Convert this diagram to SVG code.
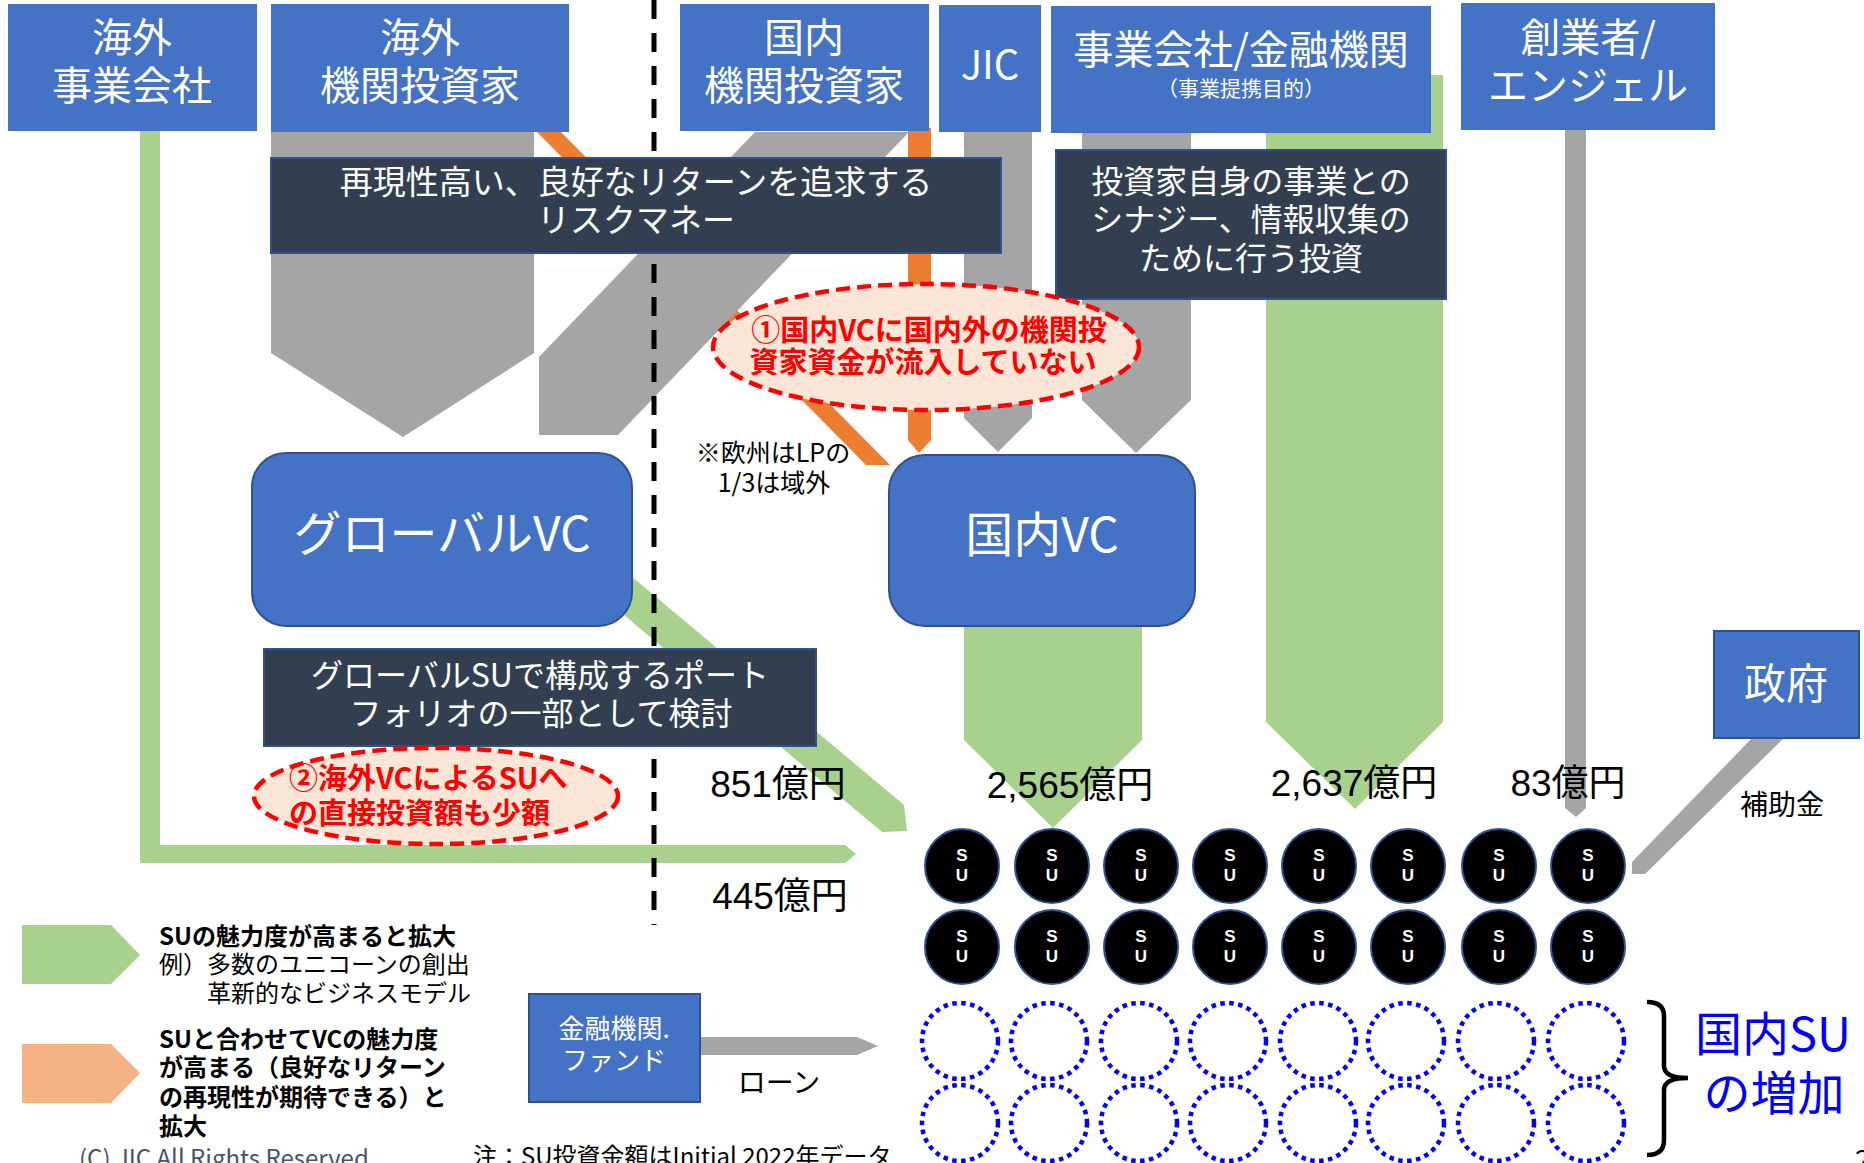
<svg xmlns="http://www.w3.org/2000/svg" width="1864" height="1163" viewBox="0 0 1864 1163">
<style>
text{font-family:"Noto Sans CJK JP","Liberation Sans",sans-serif}
.num{font-family:"Liberation Sans","Noto Sans CJK JP",sans-serif;font-size:37px;fill:#000;text-anchor:middle}
.tb{fill:#4472C4}
.tbs{fill:#4472C4;stroke:#2F528F;stroke-width:2}
.wt{fill:#fff;text-anchor:middle}
.dk{fill:#333F50;stroke:#2F528F;stroke-width:2}
.gray{fill:#A5A5A5}
.green{fill:#A9D18E}
.orange{fill:#ED7D31}
.peach{fill:#F4B183}
.ell{fill:#FBE5D6;stroke:#FF0000;stroke-width:4.5;stroke-dasharray:14 7}
.red{fill:#FF0000;font-weight:bold;font-size:29px}
.su{fill:#000;stroke:#2F528F;stroke-width:2}
.sut{fill:#fff;font-weight:bold;font-size:17px;text-anchor:middle;font-family:"Liberation Sans",sans-serif}
.dot{fill:none;stroke:#0000FF;stroke-width:4.5;stroke-dasharray:4.5 4.5}
.lg{font-size:24px;fill:#000}
.lgb{font-size:24px;fill:#000;font-weight:bold}
</style>
<defs>
<g id="suc"><ellipse class="su" cx="0" cy="0" rx="37" ry="37"/><text class="sut" x="0" y="-5">S</text><text class="sut" x="0" y="15">U</text></g>
<ellipse id="dc" class="dot" cx="0" cy="0" rx="38" ry="38"/>
</defs>

<g id="connectors">
<polygon class="orange" points="536,131 560,131 890,465 866,465"/>
<polygon class="gray" points="271,131 534,131 534,353 403,437 271,353"/>
<polygon class="gray" points="755,132 909,132 618,435 539,435 539,357"/>
<polygon class="gray" points="964,131 1032,131 1032,418 998,452 964,418"/>
<polygon class="gray" points="1082,133 1191,133 1191,400 1136,453 1082,400"/>
<polygon class="gray" points="1565,130 1586,130 1586,808 1576,817 1565,808"/>
<polygon class="gray" points="1753,737 1785,737 1645,874 1632,874 1632,862"/>
<polygon class="gray" points="700,1037 857,1037 878,1046 857,1055 700,1055"/>
<polygon class="green" points="140,131 160,131 160,845 845,845 856,854 845,863 140,863"/>
<polygon class="green" points="600,550 904,805 907,831 882,832 580,578"/>
<polygon class="green" points="964,620 1142,620 1142,740 1053,828 964,740"/>
<polygon class="green" points="1266,75 1443,75 1443,722 1355,809 1266,722"/>
<polygon class="orange" points="908,128 931,128 931,440 919,453 908,440"/>
</g>

<line x1="654" y1="0" x2="654" y2="925" stroke="#000" stroke-width="5" stroke-dasharray="19 14"/>

<g id="n-kaigai-jigyo"><rect class="tb" x="8" y="4" width="249" height="127"/>
<text class="wt" x="132" y="52" font-size="40">海外</text><text class="wt" x="132" y="100" font-size="40">事業会社</text></g>
<g id="n-kaigai-kikan"><rect class="tb" x="271" y="4" width="298" height="128"/>
<text class="wt" x="420" y="52" font-size="40">海外</text><text class="wt" x="420" y="100" font-size="40">機関投資家</text></g>
<g id="n-kokunai-kikan"><rect class="tb" x="680" y="4" width="249" height="127"/>
<text class="wt" x="804" y="52" font-size="40">国内</text><text class="wt" x="804" y="100" font-size="40">機関投資家</text></g>
<g id="n-jic"><rect class="tb" x="939" y="5" width="102" height="127"/>
<text class="wt" x="990" y="79" font-size="40">JIC</text></g>
<g id="n-jigyo-kinyu"><rect class="tb" x="1051" y="6" width="380" height="127"/>
<text class="wt" x="1241" y="64" font-size="40">事業会社/金融機関</text><text class="wt" x="1241" y="96" font-size="21">（事業提携目的）</text></g>
<g id="n-sogyo"><rect class="tb" x="1461" y="3" width="254" height="127"/>
<text class="wt" x="1588" y="52" font-size="40">創業者/</text><text class="wt" x="1588" y="100" font-size="40">エンジェル</text></g>

<g id="n-note1"><rect class="dk" x="271" y="158" width="730" height="95"/>
<text class="wt" x="636" y="194" font-size="33">再現性高い、良好なリターンを追求する</text>
<text class="wt" x="636" y="232" font-size="33">リスクマネー</text></g>
<g id="n-note2"><rect class="dk" x="1056" y="150" width="390" height="149"/>
<text class="wt" x="1251" y="193" font-size="32">投資家自身の事業との</text>
<text class="wt" x="1251" y="231" font-size="32">シナジー、情報収集の</text>
<text class="wt" x="1251" y="270" font-size="32">ために行う投資</text></g>

<g id="n-issue1"><ellipse class="ell" cx="926" cy="347" rx="213" ry="63"/>
<text class="red" x="929" y="341" text-anchor="middle">①国内VCに国内外の機関投</text>
<text class="red" x="923" y="373" text-anchor="middle">資家資金が流入していない</text></g>

<g id="n-lp-note"><text x="773" y="462" font-size="25" text-anchor="middle" fill="#000">※欧州はLPの</text>
<text x="774" y="492" font-size="25" text-anchor="middle" fill="#000">1/3は域外</text></g>

<g id="n-global-vc"><rect class="tbs" x="252" y="453" width="380" height="173" rx="34" ry="34"/>
<text class="wt" x="442" y="551" font-size="48">グローバルVC</text></g>
<g id="n-kokunai-vc"><rect class="tbs" x="889" y="455" width="306" height="171" rx="36" ry="36"/>
<text class="wt" x="1042" y="552" font-size="48">国内VC</text></g>

<g id="n-note3"><rect class="dk" x="264" y="649" width="552" height="97"/>
<text class="wt" x="540" y="687" font-size="32">グローバルSUで構成するポート</text>
<text class="wt" x="541" y="725" font-size="32">フォリオの一部として検討</text></g>

<g id="n-issue2"><ellipse class="ell" cx="436" cy="796" rx="182" ry="48"/>
<text class="red" x="289" y="789">②海外VCによるSUへ</text>
<text class="red" x="289" y="824">の直接投資額も少額</text></g>

<g id="n-gov"><rect class="tbs" x="1714" y="631" width="145" height="107"/>
<text class="wt" x="1786" y="699" font-size="42">政府</text></g>

<g id="labels">
<text class="num" x="778" y="797">851億円</text>
<text class="num" x="1070" y="798">2,565億円</text>
<text class="num" x="1354" y="796">2,637億円</text>
<text class="num" x="1568" y="796">83億円</text>
<text class="num" x="780" y="909">445億円</text>
<text x="1782" y="815" font-size="28" text-anchor="middle" fill="#000">補助金</text>
<text x="779" y="1093" font-size="28" text-anchor="middle" fill="#000">ローン</text>
</g>

<g id="n-kinyu-fund"><rect class="tbs" x="529" y="994" width="171" height="108"/>
<text class="wt" x="614" y="1038" font-size="26">金融機関.</text>
<text class="wt" x="614" y="1070" font-size="26">ファンド</text></g>

<g id="su-existing">
<use href="#suc" x="962" y="866"/><use href="#suc" x="1052" y="866"/><use href="#suc" x="1141" y="866"/><use href="#suc" x="1230" y="866"/>
<use href="#suc" x="1319" y="866"/><use href="#suc" x="1408" y="866"/><use href="#suc" x="1499" y="866"/><use href="#suc" x="1588" y="866"/>
<use href="#suc" x="962" y="947"/><use href="#suc" x="1052" y="947"/><use href="#suc" x="1141" y="947"/><use href="#suc" x="1230" y="947"/>
<use href="#suc" x="1319" y="947"/><use href="#suc" x="1408" y="947"/><use href="#suc" x="1499" y="947"/><use href="#suc" x="1588" y="947"/>
</g>
<g id="su-new">
<use href="#dc" x="960" y="1041"/><use href="#dc" x="1049" y="1041"/><use href="#dc" x="1139" y="1041"/><use href="#dc" x="1228" y="1041"/>
<use href="#dc" x="1318" y="1041"/><use href="#dc" x="1406" y="1041"/><use href="#dc" x="1496" y="1041"/><use href="#dc" x="1586" y="1041"/>
<use href="#dc" x="960" y="1123"/><use href="#dc" x="1049" y="1123"/><use href="#dc" x="1139" y="1123"/><use href="#dc" x="1228" y="1123"/>
<use href="#dc" x="1318" y="1123"/><use href="#dc" x="1406" y="1123"/><use href="#dc" x="1496" y="1123"/><use href="#dc" x="1586" y="1123"/>
</g>

<g id="n-increase">
<path d="M1647,1002 Q1664,1002 1664,1016 L1664,1066 Q1664,1078 1688,1078 Q1664,1078 1664,1090 L1664,1140 Q1664,1155 1647,1155" fill="none" stroke="#000" stroke-width="4.5"/>
<text x="1773" y="1051" font-size="47" text-anchor="middle" fill="#0000FF">国内SU</text>
<text x="1774" y="1110" font-size="47" text-anchor="middle" fill="#0000FF">の増加</text>
</g>

<g id="legend">
<polygon class="green" points="22,925 111,925 140,955 111,984 22,984"/>
<text class="lgb" x="159" y="945">SUの魅力度が高まると拡大</text>
<text class="lg" x="159" y="973">例）多数のユニコーンの創出</text>
<text class="lg" x="207" y="1002">革新的なビジネスモデル</text>
<polygon class="peach" points="22,1044 111,1044 140,1073 111,1103 22,1103"/>
<text class="lgb" x="159" y="1048">SUと合わせてVCの魅力度</text>
<text class="lgb" x="159" y="1076">が高まる（良好なリターン</text>
<text class="lgb" x="159" y="1106">の再現性が期待できる）と</text>
<text class="lgb" x="159" y="1135">拡大</text>
</g>

<g id="footer">
<text x="79" y="1167" font-size="24" fill="#44546A" font-family="Liberation Sans, sans-serif">(C) JIC  All Rights Reserved</text>
<text x="473" y="1165" font-size="24" fill="#000">注：SU投資金額はInitial 2022年データ</text>
<text x="1855" y="1170" font-size="28" fill="#000">2</text>
</g>
</svg>
